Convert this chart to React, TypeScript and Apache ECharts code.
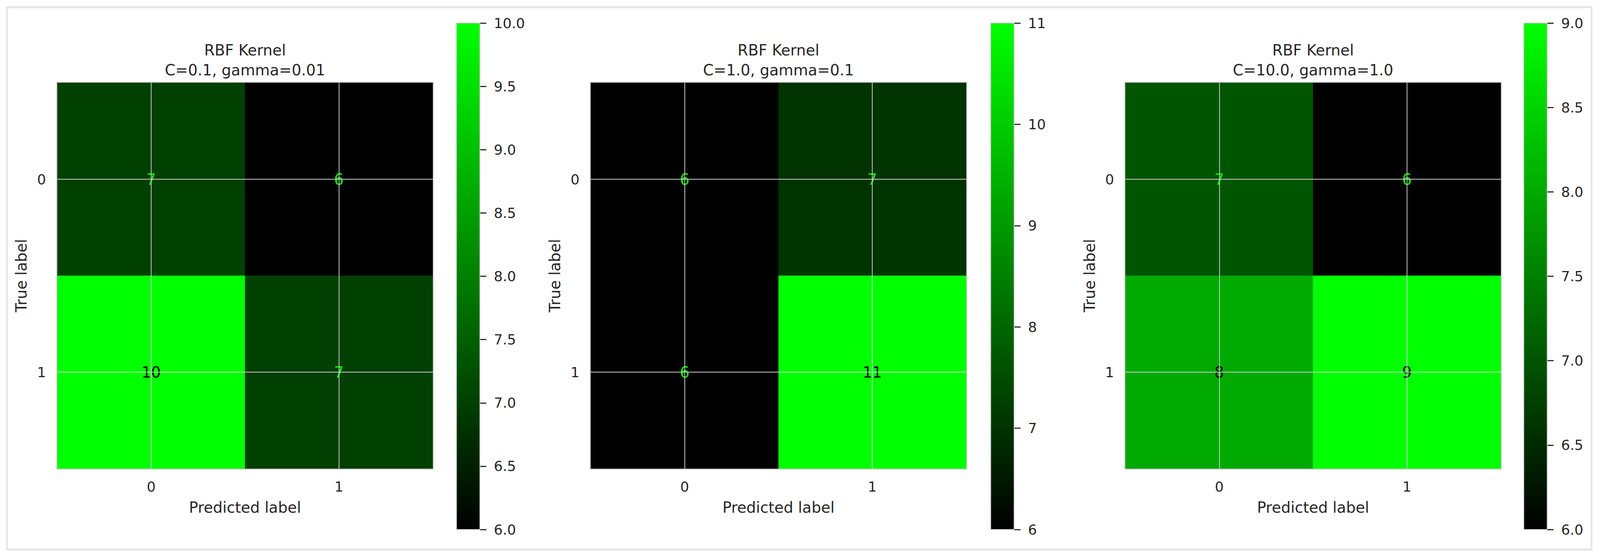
import * as echarts from "echarts";
import { useEffect, useRef } from "react";

// design size of the reference; everything below is laid out in these px
const WIDTH = 4241;
const HEIGHT = 1429;
const INK = "#262626";
const EDGE = "#cccccc";
const FONT = "DejaVu Sans";
const LOW = "#000000";
const HIGH = "#00ff00";

const predictedLabels = ["0", "1"];
const trueLabels = ["0", "1"];
const titleTop = "RBF Kernel";
const subtitles = ["C=0.1, gamma=0.01", "C=1.0, gamma=0.1", "C=10.0, gamma=1.0"];

// rows = true label, columns = predicted label
const matrixC01 = [
  [7, 6],
  [10, 7],
];
const matrixC1 = [
  [6, 7],
  [6, 11],
];
const matrixC10 = [
  [7, 6],
  [8, 9],
];
const matrices = [matrixC01, matrixC1, matrixC10];

const colorbarMin = [6, 6, 6];
const colorbarMax = [10, 11, 9];
const colorbarStep = [0.5, 1, 0.5];
const colorbarDecimals = [1, 0, 1];

// panel layout in design px
const heatLeft = [152, 1566, 2983];
const HEAT_TOP = 212;
const HEAT_W = 995;
const HEAT_H = 988;
const barLeft = [1210, 2626, 4039];
const BAR_TOP = 59;
const BAR_W = 62;
const BAR_H = 1297;

function buildOption(kx: number, ky: number) {
  const k = Math.min(kx, ky);
  const X = (v: number) => v * kx;
  const Y = (v: number) => v * ky;
  const F = (v: number) => v * k;

  const grid: any[] = [];
  const xAxis: any[] = [];
  const yAxis: any[] = [];
  const series: any[] = [];
  const visualMap: any[] = [];
  const graphic: any[] = [
    {
      type: "rect",
      z: -10,
      shape: { x: X(18.5), y: Y(18.5), width: X(4200), height: Y(1389) },
      style: { fill: "none", stroke: "#e6e6e6", lineWidth: F(5) },
    },
  ];

  matrices.forEach((m, i) => {
    const min = colorbarMin[i];
    const max = colorbarMax[i];
    const thresh = (min + max) / 2;
    const hg = i * 2;
    const cg = i * 2 + 1;

    grid.push({
      left: X(heatLeft[i]),
      top: Y(HEAT_TOP),
      width: X(HEAT_W),
      height: Y(HEAT_H),
      show: true,
      borderColor: EDGE,
      borderWidth: F(5),
      backgroundColor: "transparent",
    });
    grid.push({ left: X(barLeft[i]), top: Y(BAR_TOP), width: X(BAR_W), height: Y(BAR_H) });

    xAxis.push({
      gridIndex: hg,
      type: "category",
      data: predictedLabels,
      position: "bottom",
      axisLine: { show: false },
      axisTick: { show: false },
      splitLine: { show: false },
      axisLabel: { color: INK, fontSize: F(37), fontFamily: FONT, margin: Y(28) },
      name: "Predicted label",
      nameLocation: "middle",
      nameGap: Y(80),
      nameTextStyle: { color: INK, fontSize: F(40), fontFamily: FONT },
    });
    xAxis.push({ gridIndex: cg, type: "category", data: [""], show: false });

    yAxis.push({
      gridIndex: hg,
      type: "category",
      data: trueLabels,
      inverse: true,
      axisLine: { show: false },
      axisTick: { show: false },
      splitLine: { show: false },
      axisLabel: { color: INK, fontSize: F(37), fontFamily: FONT, margin: X(30) },
      name: "True label",
      nameLocation: "middle",
      nameRotate: 90,
      nameGap: X(75),
      nameTextStyle: { color: INK, fontSize: F(40), fontFamily: FONT },
    });
    yAxis.push({
      gridIndex: cg,
      type: "value",
      position: "right",
      min,
      max,
      interval: colorbarStep[i],
      axisLine: { show: false },
      axisTick: { show: true, length: X(17), lineStyle: { color: INK, width: F(3) } },
      splitLine: { show: false },
      axisLabel: {
        color: INK,
        fontSize: F(37),
        fontFamily: FONT,
        margin: X(37),
        formatter: (v: number) => v.toFixed(colorbarDecimals[i]),
      },
    });

    const cells: any[] = [];
    m.forEach((row, r) =>
      row.forEach((v, c) => {
        cells.push({ value: [c, r, v], label: { color: v < thresh ? HIGH : LOW } });
      })
    );

    series.push({
      type: "heatmap",
      xAxisIndex: hg,
      yAxisIndex: hg,
      data: cells,
      itemStyle: { borderWidth: 0 },
      emphasis: { disabled: true },
      label: {
        show: true,
        fontSize: F(40),
        fontFamily: FONT,
        formatter: (p: any) => String(p.value[2]),
      },
      markLine: {
        silent: true,
        symbol: ["none", "none"],
        label: { show: false },
        lineStyle: { color: EDGE, width: F(2), type: "solid" },
        data: [
          ...predictedLabels.map((_, c) => ({ xAxis: c })),
          ...trueLabels.map((_, r) => ({ yAxis: r })),
        ],
      },
    });

    series.push({
      type: "custom",
      xAxisIndex: cg,
      yAxisIndex: cg,
      silent: true,
      data: [[0, max]],
      renderItem: (_params: any, api: any) => {
        const top = api.coord([0, api.value(1)]);
        const bottom = api.coord([0, min]);
        const band = api.size([1, 0]) as number[];
        return {
          type: "rect",
          shape: { x: top[0] - band[0] / 2, y: top[1], width: band[0], height: bottom[1] - top[1] },
          style: {
            fill: new echarts.graphic.LinearGradient(0, 0, 0, 1, [
              { offset: 0, color: HIGH },
              { offset: 1, color: LOW },
            ]),
            stroke: EDGE,
            lineWidth: F(2),
          },
        };
      },
    });

    visualMap.push({
      type: "continuous",
      show: false,
      seriesIndex: hg,
      dimension: 2,
      min,
      max,
      inRange: { color: [LOW, HIGH] },
    });

    graphic.push({
      type: "text",
      x: X(heatLeft[i] + HEAT_W / 2),
      y: Y(154),
      style: {
        text: `${titleTop}\n${subtitles[i]}`,
        align: "center",
        verticalAlign: "middle",
        fontSize: F(40),
        fontFamily: FONT,
        lineHeight: F(52),
        fill: INK,
      },
    });
  });

  return { animation: false, backgroundColor: "#ffffff", grid, xAxis, yAxis, series, visualMap, graphic };
}

export default function App() {
  const ref = useRef<HTMLDivElement>(null);

  useEffect(() => {
    const el = ref.current;
    if (!el) return;
    const w = el.clientWidth || WIDTH;
    const h = el.clientHeight || HEIGHT;
    const chart = echarts.init(el, undefined, { renderer: "svg", width: w, height: h });
    chart.setOption(buildOption(w / WIDTH, h / HEIGHT) as any);
    return () => chart.dispose();
  }, []);

  return (
    <div
      ref={ref}
      style={{ position: "fixed", left: 0, top: 0, width: "100vw", height: "100vh", background: "#fff" }}
    />
  );
}
